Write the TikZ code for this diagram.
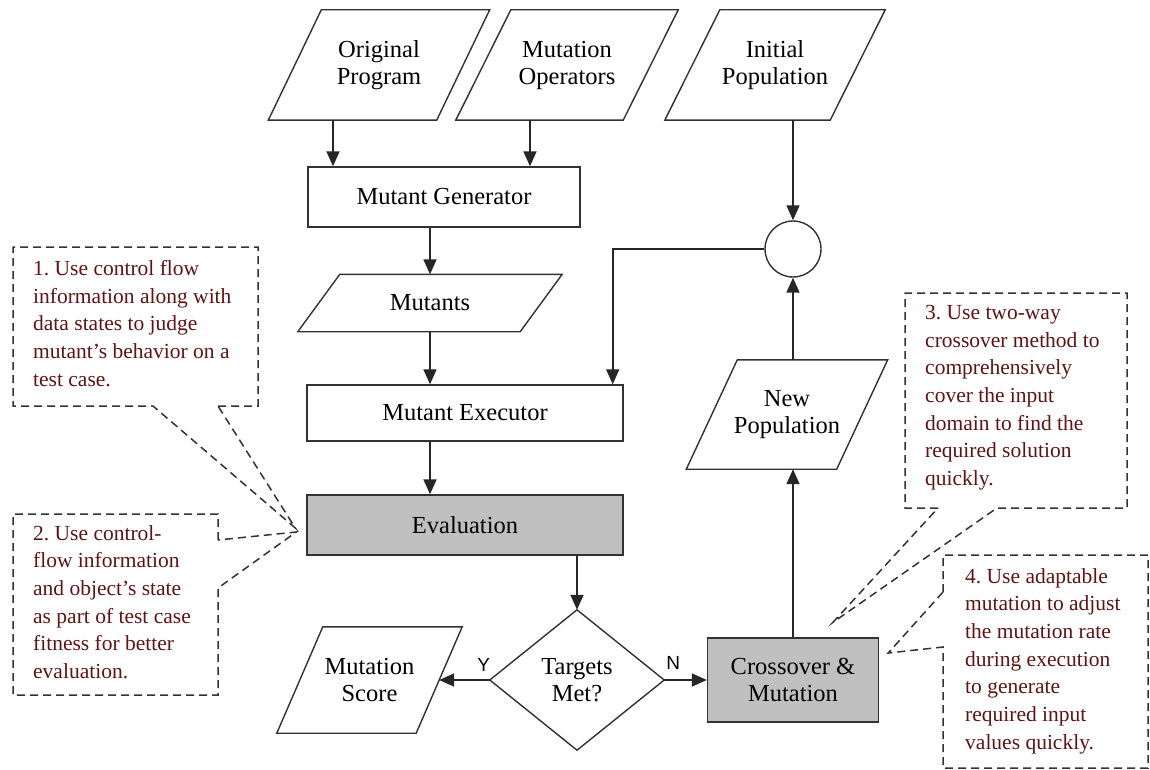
\documentclass[tikz,border=0pt]{standalone}
\usepackage{fontspec}
\setmainfont{Liberation Serif}
\newfontfamily\ynfont{Liberation Sans}
\usetikzlibrary{arrows.meta,calc}
\definecolor{notered}{RGB}{95,20,20}
\definecolor{boxgray}{RGB}{192,192,192}
\definecolor{edgegray}{RGB}{50,50,50}
\newcommand\mainsize{\fontsize{24.5}{27}\selectfont}
\newcommand\notesize{\fontsize{21.5}{27.7}\selectfont}
% slanted input/output frame around a text node: node name, half of the slant
\newcommand\ioframe[2]{%
  \draw[shapeline] ([xshift=-#2]#1.south west) -- ([xshift=-#2]#1.south east)
    -- ([xshift=#2]#1.north east) -- ([xshift=#2]#1.north west) -- cycle;}
\frenchspacing
\begin{document}
\begin{tikzpicture}[x=1pt,y=-1pt,
  shapeline/.style={draw=edgegray, line width=1.4pt},
  proc/.style={draw=edgegray, line width=1.4pt, rectangle, inner sep=0pt, font=\mainsize, align=center},
  gproc/.style={proc, fill=boxgray},
  iotext/.style={inner sep=0pt, font=\mainsize, align=center},
  flow/.style={draw=black!85, line width=1.7pt, -{Triangle[length=15pt,width=13pt]}},
  callout/.style={draw=black!80, line width=1.5pt, dash pattern=on 8pt off 5pt},
  notetext/.style={anchor=north west, inner sep=0pt, align=left, text=notered, font=\notesize},
  yn/.style={font=\ynfont\fontsize{19}{22}\selectfont, inner sep=0pt}]
\fill[white] (0,0) rectangle (1150,770);
\useasboundingbox (0,0) rectangle (1150,770);

% inputs
\node[iotext, minimum width=168, minimum height=110] (orig) at (379,65) {Original\\Program};
\ioframe{orig}{26.5}
\node[iotext, minimum width=167, minimum height=110] (mops) at (567,65) {Mutation\\Operators};
\ioframe{mops}{27.5}
\node[iotext, minimum width=165, minimum height=110] (initpop) at (775,65) {Initial\\Population};
\ioframe{initpop}{27.5}

% mutation testing chain
\node[proc, minimum width=272, minimum height=60] (gen) at (444,197) {Mutant Generator};
\node[iotext, minimum width=222, minimum height=57] (mutants) at (430,303) {Mutants};
\ioframe{mutants}{21}
\node[proc, minimum width=316, minimum height=56] (exec) at (465,413) {Mutant Executor};
\node[gproc, minimum width=316, minimum height=60] (eval) at (465,525) {Evaluation};

% decision
\node[iotext, minimum width=174, minimum height=140] (tm) at (577,680) {Targets\\Met?};
\draw[shapeline] (tm.north) -- (tm.east) -- (tm.south) -- (tm.west) -- cycle;
\node[iotext, minimum width=139, minimum height=106] (score) at (369.5,680) {Mutation\\Score};
\ioframe{score}{23}

% genetic loop
\node[gproc, minimum width=171, minimum height=84] (cross) at (793,680) {Crossover \&\\Mutation};
\node[iotext, minimum width=150, minimum height=109] (newpop) at (787,414.5) {New\\Population};
\ioframe{newpop}{25.5}
\node[draw=edgegray, line width=1.4pt, circle, minimum size=56, inner sep=0pt] (merge) at (793,249) {};

% connectors
\coordinate (inA) at ([xshift=-46]orig.south);
\coordinate (inB) at ([xshift=-37]mops.south);
\draw[flow] (inA) -- (inA |- gen.north);
\draw[flow] (inB) -- (inB |- gen.north);
\draw[flow] (initpop.south -| merge.north) -- (merge.north);
\draw[flow] (mutants.north |- gen.south) -- (mutants.north);
\draw[flow] (mutants.south) -- (mutants.south |- exec.north);
\draw[flow] (mutants.south |- exec.south) -- (mutants.south |- eval.north);
\draw[flow] (tm.north |- eval.south) -- (tm.north);
\draw[flow] (tm.west) -- (score.east);
\draw[flow] (tm.east) -- (cross.west);
\draw[flow] (cross.north) -- (cross.north |- newpop.south);
\draw[flow] (cross.north |- newpop.north) -- (merge.south);
\coordinate (execin) at ([xshift=-11]exec.north east);
\draw[flow] (merge.west) -| (execin);

\node[yn] (ylab) at ([xshift=-6,yshift=15]tm.west) {Y};
\node[yn] (nlab) at ([xshift=9,yshift=17]tm.east) {N};

% notes
\coordinate (tipA) at ([xshift=-11,yshift=-3]eval.west);
\coordinate (tipB) at ([xshift=-10,yshift=-7]eval.west);
\coordinate (tipC) at ([xshift=40,yshift=15]cross.north);
\coordinate (tipD) at ([xshift=9,yshift=27]cross.east);

\draw[callout] (218,406) -- (258,406) -- (258,247) -- (13,247) -- (13,406) -- (153,406) -- (tipA) -- cycle;
\node[notetext] (noteA) at (33,260) {1. Use control flow\\information along with\\data states to judge\\mutant’s behavior on a\\test case.};

\draw[callout] (218,540) -- (218,514) -- (13,514) -- (13,695) -- (218,695) -- (218,588) -- (tipB) -- cycle;
\node[notetext] (noteB) at (33,525) {2. Use control-\\flow information\\and object's state\\as part of test case\\fitness for better\\evaluation.};

\draw[callout] (938,508) -- (905,508) -- (905,293) -- (1127,293) -- (1127,508) -- (997,508) -- (tipC) -- cycle;
\node[notetext] (noteC) at (925,305) {3. Use two-way\\crossover method to\\comprehensively\\cover the input\\domain to find the\\required solution\\quickly.};

\draw[callout] (943,592) -- (943,555) -- (1148,555) -- (1148,768) -- (943,768) -- (943,647) -- (tipD) -- cycle;
\node[notetext] (noteD) at (965,568) {4. Use adaptable\\mutation to adjust\\the mutation rate\\during execution\\to generate\\required input\\values quickly.};
\end{tikzpicture}
\end{document}
